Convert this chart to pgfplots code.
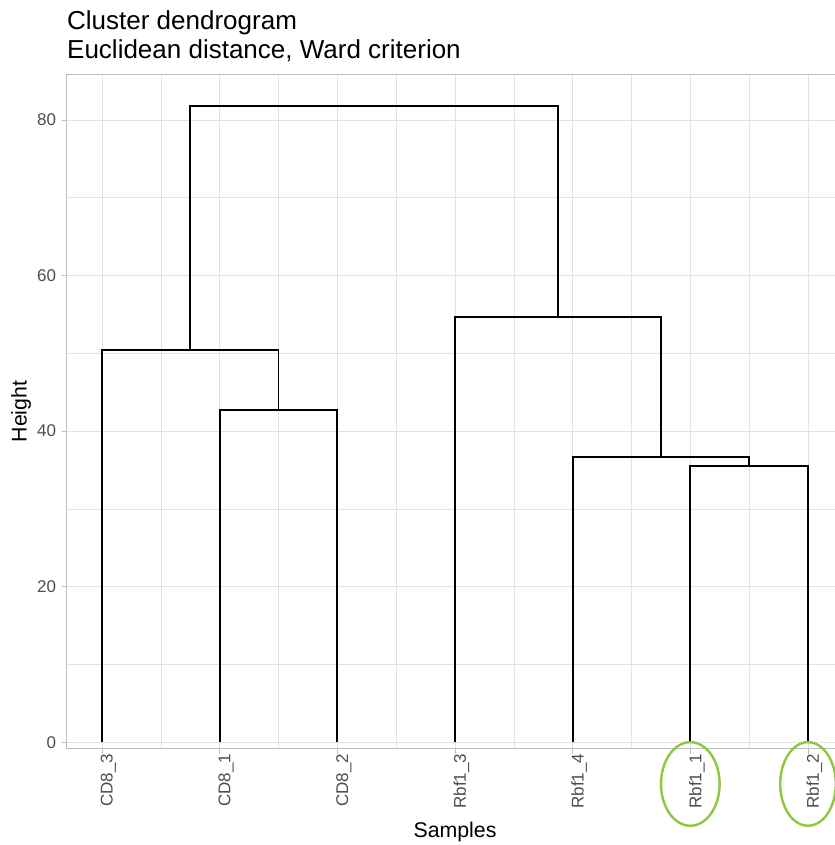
\documentclass[border=0pt]{standalone}
\usepackage{pgfplots}
\pgfplotsset{compat=1.18}
\usepackage{fontspec}
\setmainfont{Liberation Sans}
\definecolor{gridc}{HTML}{E3E3E3}
\definecolor{borderc}{HTML}{BDBDBD}
\definecolor{tickc}{HTML}{4D4D4D}
\definecolor{circ}{HTML}{8DC63F}
\begin{document}
\begin{tikzpicture}
\path[use as bounding box] (0,0) rectangle (835bp,845bp);
\begin{axis}[
  at={(66.7bp,96.5bp)}, anchor=south west,
  scale only axis, width=772bp, height=674.2bp,
  xmin=0.70, xmax=7.261, ymin=-0.80, ymax=85.87,
  clip=false,
  axis line style={borderc, line width=0.9bp},
  xtick={1,2,3,4,5,6,7},
  xticklabels={CD8\_3,CD8\_1,CD8\_2,Rbf1\_3,Rbf1\_4,Rbf1\_1,Rbf1\_2},
  ytick={0,20,40,60,80},
  minor xtick={1.5,2.5,3.5,4.5,5.5,6.5},
  minor ytick={10,30,50,70},
  grid=both,
  major grid style={gridc, line width=0.9bp},
  minor grid style={gridc, line width=0.6bp},
  tick align=outside, xtick pos=bottom, ytick pos=left,
  major tick length=5bp, minor tick length=0pt,
  tick style={borderc, line width=0.9bp},
  /pgf/number format/assume math mode=true,
  yticklabel style={font=\fontsize{17bp}{20bp}\selectfont, text=tickc, inner sep=0pt, xshift=-5.5bp},
  xticklabel style={font=\fontsize{17bp}{20bp}\selectfont, text=tickc, rotate=90, anchor=east, inner sep=0pt, yshift=-6.5bp},
]
\addplot[black, line width=1.8bp] coordinates {(2,0)(2,42.68)(3,42.68)(3,0)};
\addplot[black, line width=1.8bp] coordinates {(1,0)(1,50.43)(2.5,50.43)(2.5,42.68)};
\addplot[black, line width=1.8bp] coordinates {(6,0)(6,35.52)(7,35.52)(7,0)};
\addplot[black, line width=1.8bp] coordinates {(5,0)(5,36.64)(6.5,36.64)(6.5,35.52)};
\addplot[black, line width=1.8bp] coordinates {(4,0)(4,54.67)(5.75,54.67)(5.75,36.64)};
\addplot[black, line width=1.8bp] coordinates {(1.75,50.43)(1.75,81.83)(4.875,81.83)(4.875,54.67)};
\draw[circ, line width=2.4bp] (axis cs:6,-5.36) ellipse [x radius=29.3bp, y radius=41.8bp];
\draw[circ, line width=2.4bp] (axis cs:7,-5.36) ellipse [x radius=27.8bp, y radius=41.8bp];
\end{axis}
\node[anchor=base west, inner sep=0pt, font=\fontsize{26bp}{30bp}\selectfont] at (67bp,815bp) {Cluster dendrogram};
\node[anchor=base west, inner sep=0pt, font=\fontsize{26bp}{30bp}\selectfont] at (67bp,786.7bp) {Euclidean distance, Ward criterion};
\node[anchor=base, inner sep=0pt, font=\fontsize{21.3bp}{25bp}\selectfont] at (455bp,8bp) {Samples};
\node[anchor=base, rotate=90, inner sep=0pt, font=\fontsize{21.3bp}{25bp}\selectfont] at (26.5bp,433.5bp) {Height};
\end{tikzpicture}
\end{document}
